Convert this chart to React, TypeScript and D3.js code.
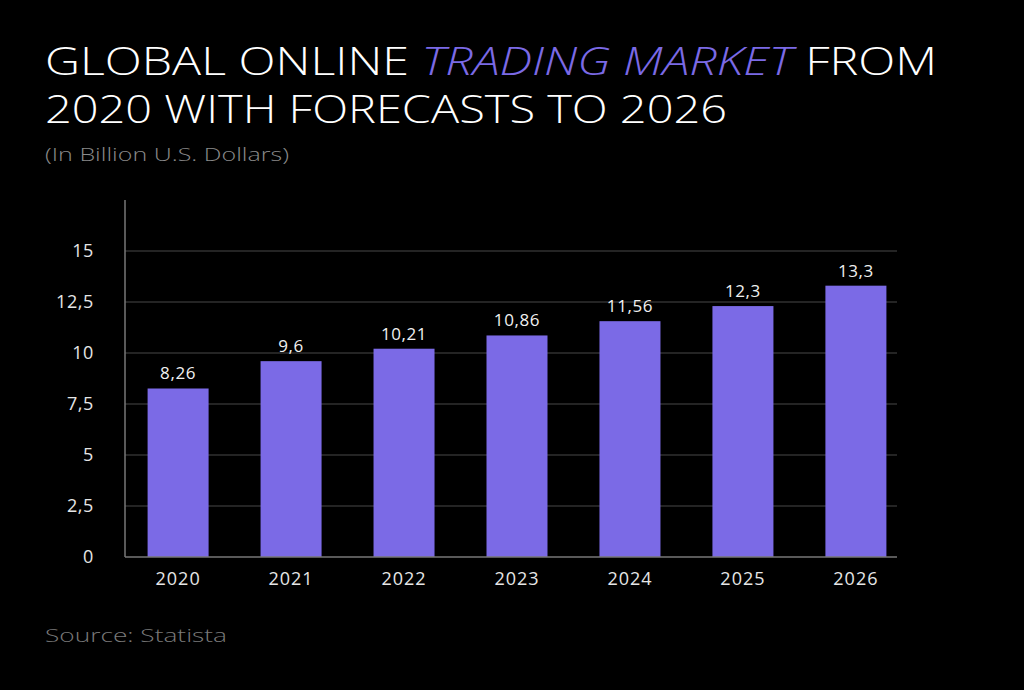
import React from 'react';
import * as d3 from 'd3';

const years = ['2020', '2021', '2022', '2023', '2024', '2025', '2026'];
const marketValues = [8.26, 9.6, 10.21, 10.86, 11.56, 12.3, 13.3];
const valueLabels = ['8,26', '9,6', '10,21', '10,86', '11,56', '12,3', '13,3'];
const yTicks = [0, 2.5, 5, 7.5, 10, 12.5, 15];
const yTickLabels = ['0', '2,5', '5', '7,5', '10', '12,5', '15'];

const W = 1024;
const H = 690;
const FONT = '"Open Sans", Lato, sans-serif';
const PURPLE = '#7b6ae6';

function App() {
    const left = 125;
    const gridRight = 897;

    const xScale = d3.scaleBand<string>()
        .domain(years)
        .range([left, 909])
        .paddingInner(0.46)
        .paddingOuter(0.2);

    const yScale = d3.scaleLinear()
        .domain([0, 17.5])
        .range([557, 200]);

    const cx = (yr: string) => (xScale(yr) ?? 0) + xScale.bandwidth() / 2;

    return (
        <div style={{ position: 'absolute', top: 0, left: 0 }}>
            <svg width={W} height={H} style={{ display: 'block', background: '#000' }}>
                <rect width={W} height={H} fill="#000" />

                {/* title */}
                <text x={45} y={75} fill="#fff" fontFamily={FONT} fontSize={38} fontWeight={300}
                    textLength={892} lengthAdjust="spacingAndGlyphs">
                    GLOBAL ONLINE{' '}
                    <tspan fill={PURPLE} fontStyle="italic">TRADING MARKET</tspan>
                    {' '}FROM
                </text>
                <text x={45} y={123} fill="#fff" fontFamily={FONT} fontSize={38} fontWeight={300}
                    textLength={682} lengthAdjust="spacingAndGlyphs">
                    2020 WITH FORECASTS TO 2026
                </text>
                <text x={45} y={161} fill="#8a8a8a" fontFamily={FONT} fontSize={19} fontWeight={300}
                    textLength={244} lengthAdjust="spacingAndGlyphs">
                    (In Billion U.S. Dollars)
                </text>

                {/* grid */}
                {yTicks.filter((t) => t > 0).map((t) => (
                    <line key={t} x1={left} x2={gridRight} y1={yScale(t)} y2={yScale(t)}
                        stroke="#303030" strokeWidth={1.5} />
                ))}

                {/* bars */}
                {years.map((yr, i) => (
                    <rect key={yr}
                        x={xScale(yr)}
                        y={yScale(marketValues[i])}
                        width={xScale.bandwidth()}
                        height={yScale(0) - yScale(marketValues[i])}
                        fill={PURPLE} />
                ))}

                {/* value labels */}
                {years.map((yr, i) => (
                    <text key={yr} x={cx(yr)} y={yScale(marketValues[i]) - 9}
                        textAnchor="middle" fill="#f0f0f0" fontFamily={FONT} fontSize={17}
                        letterSpacing={0.6}>
                        {valueLabels[i]}
                    </text>
                ))}

                {/* axes */}
                <line x1={left} x2={left} y1={200} y2={yScale(0)} stroke="#777" strokeWidth={1.5} />
                <line x1={left} x2={gridRight} y1={yScale(0)} y2={yScale(0)} stroke="#777" strokeWidth={1.5} />

                {yTicks.map((t, i) => (
                    <text key={t} x={94} y={yScale(t) + 6} textAnchor="end"
                        fill="#e6e6e6" fontFamily={FONT} fontSize={18} letterSpacing={0.6}>
                        {yTickLabels[i]}
                    </text>
                ))}

                {years.map((yr) => (
                    <text key={yr} x={cx(yr)} y={585}
                        textAnchor="middle" fill="#e6e6e6" fontFamily={FONT} fontSize={18}
                        letterSpacing={1}>
                        {yr}
                    </text>
                ))}

                <text x={45} y={642} fill="#7a7a7a" fontFamily={FONT} fontSize={19} fontWeight={300}
                    textLength={182} lengthAdjust="spacingAndGlyphs">
                    Source: Statista
                </text>
            </svg>
        </div>
    );
}

export default App;
